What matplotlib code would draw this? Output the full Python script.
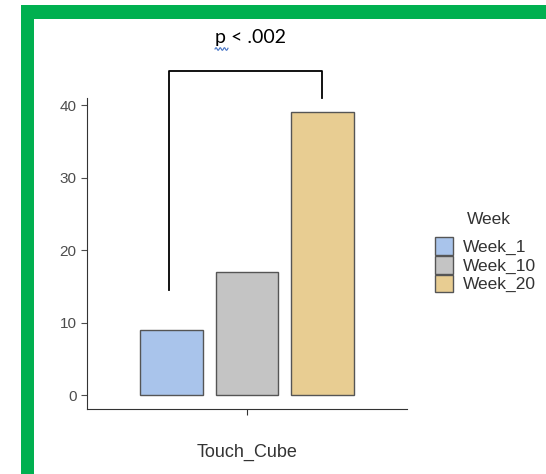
import numpy as np
import matplotlib
matplotlib.use("Agg")
from matplotlib import pyplot as plt
from matplotlib.patches import Rectangle, Patch

# podatki
kategorija = "Touch_Cube"
tedni = ["Week_1", "Week_10", "Week_20"]
vrednosti = [9, 17, 39]
barve = ["#A9C4EB", "#C4C4C4", "#E8CD92"]
p_tekst = "p < .002"

plt.rcParams['font.family'] = ['Liberation Sans', 'DejaVu Sans']

W, H = 546, 474
fig = plt.figure(figsize=(W / 100, H / 100), dpi=100)
ax = fig.add_axes([87 / W, 65 / H, 320 / W, 311 / H])

pozicije = np.arange(len(tedni)) - 1
ax.bar(pozicije, vrednosti, width=0.83, color=barve, edgecolor="#555555", linewidth=1)

ax.set_xlim(-2.12, 2.12)
ax.set_ylim(-1.93, 41)
ax.set_xticks([0])
ax.set_xticklabels([kategorija], fontsize=13, color="#333333")
ax.set_yticks([0, 10, 20, 30, 40])
ax.tick_params(axis="y", labelsize=11, colors="#4D4D4D", length=4, width=0.8)
ax.tick_params(axis="x", length=4, width=0.8, colors="#333333", pad=21)
for s in ["top", "right"]:
    ax.spines[s].set_visible(False)
for s in ["left", "bottom"]:
    ax.spines[s].set_color("#333333")
    ax.spines[s].set_linewidth(0.8)

# oklepaj za signifikanco
ax.plot([-1.03, -1.03, 0.99, 0.99], [14.5, 44.7, 44.7, 41.0], color="black",
        linewidth=1.3, clip_on=False)
fig.text(215 / W, 1 - 38 / H, p_tekst, ha="left", va="center", fontsize=14,
         family=["Lato", "DejaVu Sans"])

# modra valovita crta pod p (kot v originalu)
xv = np.linspace(215, 228, 40)
yv = H - 49 + 1.3 * np.sin((xv - 215) * 1.5)
fig.add_artist(plt.Line2D(xv / W, yv / H, color="#4472C4", linewidth=0.8,
                          transform=fig.transFigure))

# legenda
rocaji = [Patch(facecolor=c, edgecolor="#555555", linewidth=1) for c in barve]
leg = fig.legend(rocaji, tedni, loc="upper left", bbox_to_anchor=(435 / W, 1 - 237 / H),
                 frameon=False, fontsize=12.5, labelspacing=0.05,
                 handlelength=1.03, handleheight=1.2, handletextpad=0.6,
                 borderpad=0, borderaxespad=0)
for t in leg.get_texts():
    t.set_color("#333333")
fig.text(467 / W, 1 - 220 / H, "Week", ha="left", va="center", fontsize=12.5,
         color="#333333")

# zelen okvir
zelena = "#00B050"
fig.add_artist(Rectangle((21 / W, 1 - 19 / H), 1 - 21 / W, 14 / H, color=zelena,
                         transform=fig.transFigure, linewidth=0))
fig.add_artist(Rectangle((21 / W, 0), 13 / W, 1 - 5 / H, color=zelena,
                         transform=fig.transFigure, linewidth=0))

fig.savefig("out.png", dpi=100)
